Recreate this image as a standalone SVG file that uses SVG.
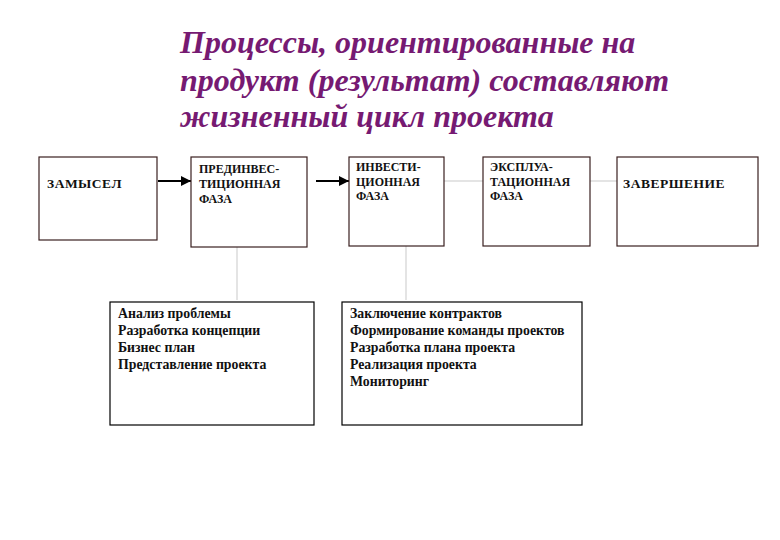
<svg xmlns="http://www.w3.org/2000/svg" width="780" height="540" viewBox="0 0 780 540">
<defs>
<marker id="ah" viewBox="0 0 10 10" refX="10" refY="5" markerWidth="5" markerHeight="5" orient="auto"><path d="M0,0 L10,5 L0,10 z" fill="#000"/></marker>
<style>
.title{font-family:"Liberation Serif","DejaVu Serif",serif;font-weight:bold;font-style:italic;font-size:32px;fill:#761a72}
.box{fill:#fff;stroke:#3a2020;stroke-width:1.2}
.bbox{fill:#fff;stroke:#000;stroke-width:1.2}
.t{font-family:"Liberation Serif","DejaVu Serif",serif;font-weight:bold;font-size:12px;fill:#111}
.ts{font-size:13.5px;letter-spacing:0.5px}
.l{font-family:"Liberation Serif","DejaVu Serif",serif;font-weight:bold;font-size:13.8px;fill:#111}
.arr{stroke:#000;stroke-width:2;fill:none;marker-end:url(#ah)}
.gl{stroke:#e4e4e4;stroke-width:2;fill:none}
</style>
</defs>
<rect width="780" height="540" fill="#fff"/>
<g id="title">
<text class="title" x="180" y="53">Процессы, ориентированные на</text>
<text class="title" x="180" y="91">продукт (результат) составляют</text>
<text class="title" x="180" y="127">жизненный цикл проекта</text>
</g>
<g id="connectors">
<line class="arr" x1="158" y1="181" x2="191" y2="181"/>
<line class="arr" x1="316" y1="181" x2="349" y2="181"/>
<line class="gl" x1="444" y1="181" x2="483" y2="181"/>
<line class="gl" x1="590" y1="181" x2="617" y2="181"/>
<line class="gl" x1="237" y1="247" x2="237" y2="300"/>
<line class="gl" x1="406" y1="246" x2="406" y2="300"/>
</g>
<g id="zamysel">
<rect class="box" x="39" y="157" width="118" height="83"/>
<text class="t ts" x="47" y="188">ЗАМЫСЕЛ</text>
</g>
<g id="preinvest">
<rect class="box" x="191" y="157" width="116" height="90"/>
<text class="t" x="199" y="173">ПРЕДИНВЕС-</text>
<text class="t" x="199" y="188">ТИЦИОННАЯ</text>
<text class="t" x="199" y="203">ФАЗА</text>
</g>
<g id="invest">
<rect class="box" x="349" y="157" width="95" height="89"/>
<text class="t" x="356" y="171">ИНВЕСТИ-</text>
<text class="t" x="356" y="186">ЦИОННАЯ</text>
<text class="t" x="356" y="200">ФАЗА</text>
</g>
<g id="exploit">
<rect class="box" x="483" y="157" width="107" height="89"/>
<text class="t" x="490" y="171">ЭКСПЛУА-</text>
<text class="t" x="490" y="186">ТАЦИОННАЯ</text>
<text class="t" x="490" y="200">ФАЗА</text>
</g>
<g id="finish">
<rect class="box" x="617" y="157" width="141" height="89"/>
<text class="t ts" x="623" y="188">ЗАВЕРШЕНИЕ</text>
</g>
<g id="pre-tasks">
<rect class="bbox" x="110" y="302" width="204" height="123"/>
<text class="l" x="118" y="318">Анализ проблемы</text>
<text class="l" x="118" y="335">Разработка концепции</text>
<text class="l" x="118" y="352">Бизнес план</text>
<text class="l" x="118" y="369">Представление проекта</text>
</g>
<g id="invest-tasks">
<rect class="bbox" x="342" y="302" width="240" height="123"/>
<text class="l" x="350" y="318">Заключение контрактов</text>
<text class="l" x="350" y="335">Формирование команды проектов</text>
<text class="l" x="350" y="352">Разработка плана проекта</text>
<text class="l" x="350" y="369">Реализация проекта</text>
<text class="l" x="350" y="386">Мониторинг</text>
</g>
</svg>
